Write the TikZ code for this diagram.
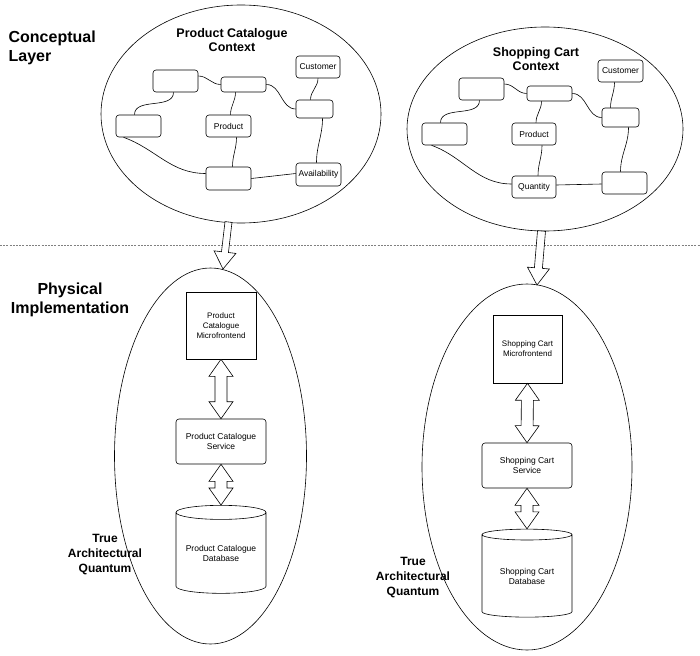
\documentclass[tikz,border=0pt]{standalone}
\usepackage{fontspec}
\setmainfont{Liberation Sans}
\usetikzlibrary{shapes.geometric,calc}
\newcommand\hollowsingle[4]{% from, to, half shaft, half head
  \path let \p1=(#1), \p2=(#2), \n1={atan2(\y2-\y1,\x2-\x1)}, \n2={veclen(\x2-\x1,\y2-\y1)} in
   [shift={(\p1)},rotate=\n1] [harrow] (0pt,#3) -- (\n2-17pt,#3) -- (\n2-17pt,#4) -- (\n2,0pt) -- (\n2-17pt,-#4) -- (\n2-17pt,-#3) -- (0pt,-#3) -- cycle;}
\newcommand\hollowdouble[4]{%
  \path let \p1=(#1), \p2=(#2), \n1={atan2(\y2-\y1,\x2-\x1)}, \n2={veclen(\x2-\x1,\y2-\y1)} in
   [shift={(\p1)},rotate=\n1] [harrow] (0pt,0pt) -- (17pt,#4) -- (17pt,#3) -- (\n2-17pt,#3) -- (\n2-17pt,#4) -- (\n2,0pt) -- (\n2-17pt,-#4) -- (\n2-17pt,-#3) -- (17pt,-#3) -- (17pt,-#4) -- cycle;}
\begin{document}
\begin{tikzpicture}[x=1pt,y=-1pt,line width=0.6pt,
  harrow/.style={draw,fill=white,line width=0.6pt},
  box/.style={draw,rounded corners=3pt,inner sep=0pt,font=\fontsize{8.5}{10}\selectfont,align=center},
  ell/.style={draw,ellipse,inner sep=0pt},
  link/.style={draw,line width=0.6pt},
  title/.style={font=\bfseries\fontsize{12.5}{14}\selectfont,align=center},
  side/.style={font=\bfseries\fontsize{16}{19}\selectfont,align=center},
  side2/.style={font=\bfseries\fontsize{12}{15}\selectfont,align=center},
  small/.style={font=\fontsize{8}{10}\selectfont,align=center},
  cyl/.style={draw,cylinder,shape border rotate=90,aspect=0.2,inner sep=0pt,minimum width=90pt,minimum height=88pt,font=\fontsize{8.5}{10}\selectfont,align=center}]
\useasboundingbox (0,0) rectangle (700,655);
\draw[gray,dash pattern=on 2pt off 1.2pt] (0,245) -- (700,245);
% labels
\node[side,align=left,anchor=north west] (cl) at (5,27) {Conceptual\\Layer};
\node[side] (pi) at (70,300) {Physical\\Implementation};
\node[side2] (taq1) at (105,555) {True\\Architectural\\Quantum};
\node[side2] (taq2) at (413,578) {True\\Architectural\\Quantum};
% ===== left top
\node[ell,minimum width=280pt,minimum height=218pt] (lE) at (241,114) {};
\node[title] (lT) at (232,40) {Product Catalogue\\Context};
\node[box,minimum width=45pt,minimum height=22pt] (la) at (175.5,81) {};
\node[box,minimum width=45pt,minimum height=15pt] (lb) at (243.5,84.5) {};
\node[box,minimum width=44pt,minimum height=22pt] (lc) at (318,67) {Customer};
\node[box,minimum width=37pt,minimum height=18pt] (ld) at (314.5,109) {};
\node[box,minimum width=45pt,minimum height=22pt] (le) at (138.5,126) {};
\node[box,minimum width=45pt,minimum height=22pt] (lp) at (228.5,126) {Product};
\node[box,minimum width=45pt,minimum height=23pt] (lg) at (228.5,178.5) {};
\node[box,minimum width=45pt,minimum height=23pt] (lv) at (318.5,174.5) {Availability};
\draw[link] (la.east) ++(0,-5) to[out=0,in=180] (lb.west);
\draw[link] ([xshift=-4pt]le.north) to[out=90,in=-90] ([xshift=-2pt]la.south);
\draw[link] (lb.east) to[out=0,in=180] (ld.west);
\draw[link] ([xshift=-8pt]lb.south) to[out=-90,in=90] ([xshift=2pt]lp.north);
\draw[link] (lc.south) to[out=-90,in=90] ([xshift=-4pt]ld.north);
\draw[link] ([xshift=8pt]ld.south) to[out=-90,in=90] ([xshift=-2pt]lv.north);
\draw[link] ([xshift=-15pt]le.south) to[out=-20,in=180] ([yshift=5pt]lg.west);
\draw[link] ([xshift=8pt]lp.south) to[out=-90,in=90] ([xshift=4pt]lg.north);
\draw[link] (lg.east) -- ([yshift=1pt]lv.west);
% ===== right top
\node[ell,minimum width=276pt,minimum height=204pt] (rE) at (545,129) {};
\node[title] (rT) at (536,59) {Shopping Cart\\Context};
\node[box,minimum width=45pt,minimum height=22pt] (ra) at (481.5,89) {};
\node[box,minimum width=45pt,minimum height=15pt] (rb) at (549.5,93.5) {};
\node[box,minimum width=45pt,minimum height=22pt] (rc) at (620.5,71) {Customer};
\node[box,minimum width=37pt,minimum height=19pt] (rd) at (620.5,117.5) {};
\node[box,minimum width=45pt,minimum height=22pt] (re) at (444.5,134) {};
\node[box,minimum width=44pt,minimum height=22pt] (rp) at (534,134) {Product};
\node[box,minimum width=44pt,minimum height=22pt] (rq) at (534,187) {Quantity};
\node[box,minimum width=45pt,minimum height=22pt] (rf) at (624.5,183) {};
\draw[link] (ra.east) ++(0,-5) to[out=0,in=180] (rb.west);
\draw[link] ([xshift=-4pt]re.north) to[out=90,in=-90] ([xshift=-2pt]ra.south);
\draw[link] (rb.east) to[out=0,in=180] (rd.west);
\draw[link] ([xshift=-8pt]rb.south) to[out=-90,in=90] ([xshift=2pt]rp.north);
\draw[link] ([xshift=-6pt]rc.south) to[out=-90,in=90] ([xshift=-10pt]rd.north);
\draw[link] ([xshift=8pt]rd.south) to[out=-90,in=90] ([xshift=-4pt]rf.north);
\draw[link] ([xshift=-13pt]re.south) to[out=-20,in=180] ([yshift=3pt]rq.west);
\draw[link] ([xshift=8pt]rp.south) to[out=-90,in=90] ([xshift=4pt]rq.north);
\draw[link] ([yshift=2pt]rq.east) -- ([yshift=-1pt]rf.west);
% ===== left bottom
\node[ell,minimum width=192pt,minimum height=376pt] (lB) at (210.5,456) {};
\node[draw,minimum width=70pt,minimum height=67pt,inner sep=0pt,small] (lmf) at (221,325.5) {Product\\Catalogue\\Microfrontend};
\node[box,minimum width=90pt,minimum height=45pt] (lsv) at (221,441.5) {Product Catalogue\\Service};
\node[cyl] (ldb) at (221,553) {Product Catalogue\\Database};
\hollowdouble{lmf.south}{lsv.north}{6pt}{12pt}
\hollowdouble{lsv.south}{ldb.north}{6pt}{12pt}
\coordinate (ls) at (228.5,222);
\coordinate (lt) at (223,269);
\hollowsingle{ls}{lt}{3.5pt}{11pt}
% ===== right bottom
\node[ell,minimum width=210pt,minimum height=366pt] (rB) at (527,467) {};
\node[draw,minimum width=69pt,minimum height=68pt,inner sep=0pt,small] (rmf) at (527.5,349) {Shopping Cart\\Microfrontend};
\node[box,minimum width=90pt,minimum height=45pt] (rsv) at (527,465.5) {Shopping Cart\\Service};
\node[cyl] (rdb) at (527,576) {Shopping Cart\\Database};
\hollowdouble{rmf.south}{rsv.north}{6pt}{12pt}
\hollowdouble{rsv.south}{rdb.north}{6pt}{12pt}
\coordinate (rs) at (541.5,231);
\coordinate (rt) at (537,285);
\hollowsingle{rs}{rt}{4pt}{11pt}
\end{tikzpicture}
\end{document}
